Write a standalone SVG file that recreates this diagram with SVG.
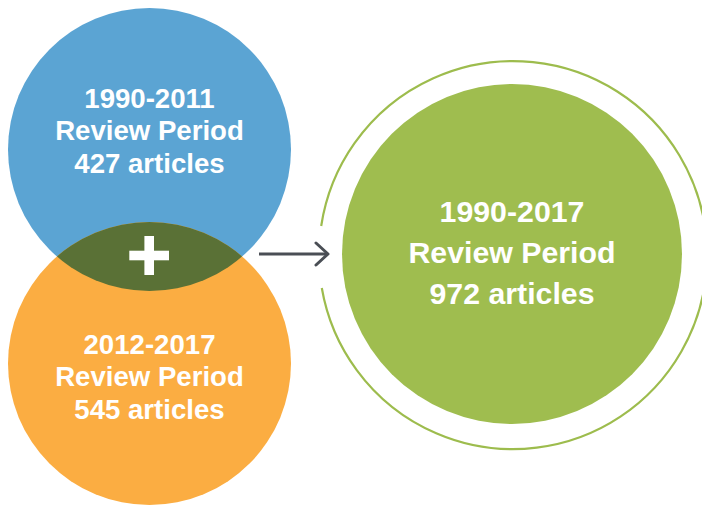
<svg xmlns="http://www.w3.org/2000/svg" width="702" height="506" viewBox="0 0 702 506">
<defs>
<style>
.lbl{font-family:"Liberation Sans",Arial,sans-serif;font-weight:700;fill:#ffffff;text-anchor:middle}
.sm{font-size:27.6px}
.lg{font-size:30.3px}
</style>
<clipPath id="clipBlue"><circle cx="149.5" cy="149.5" r="141.5"/></clipPath>
<marker id="arr" viewBox="0 0 16 26" refX="14" refY="13" markerWidth="16" markerHeight="26" markerUnits="userSpaceOnUse" orient="auto">
<path d="M2 2 L14 13 L2 24" fill="none" stroke="#4a4e55" stroke-width="3" stroke-linecap="round" stroke-linejoin="round"/>
</marker>
</defs>
<rect width="702" height="506" fill="#ffffff"/>
<g id="node-blue">
<circle cx="149.5" cy="149.5" r="141.5" fill="#5ba4d3"/>
<text class="lbl sm" x="149.5" y="108">1990-2011</text>
<text class="lbl sm" x="149.5" y="140">Review Period</text>
<text class="lbl sm" x="149.5" y="173">427 articles</text>
</g>
<g id="node-orange">
<circle cx="149.5" cy="363.5" r="141.5" fill="#fbad42"/>
<text class="lbl sm" x="149.5" y="354">2012-2017</text>
<text class="lbl sm" x="149.5" y="386">Review Period</text>
<text class="lbl sm" x="149.5" y="419">545 articles</text>
</g>
<g id="node-overlap">
<circle cx="149.5" cy="363.5" r="141.5" fill="#5a7136" clip-path="url(#clipBlue)"/>
<rect x="129.3" y="250.7" width="39.7" height="9.6" fill="#ffffff"/>
<rect x="144.4" y="236" width="9.6" height="39" fill="#ffffff"/>
</g>
<g id="node-green">
<path d="M 321.2 226 A 194 194 0 1 1 321.8 288" fill="none" stroke="#9dbc4d" stroke-width="2.2"/>
<circle cx="512" cy="254" r="170" fill="#9fbd4f"/>
<text class="lbl lg" x="512" y="222">1990-2017</text>
<text class="lbl lg" x="512" y="263">Review Period</text>
<text class="lbl lg" x="512" y="304">972 articles</text>
</g>
<g id="connectors">
<line x1="259" y1="254" x2="328" y2="254" stroke="#4a4e55" stroke-width="3" marker-end="url(#arr)"/>
</g>
</svg>
